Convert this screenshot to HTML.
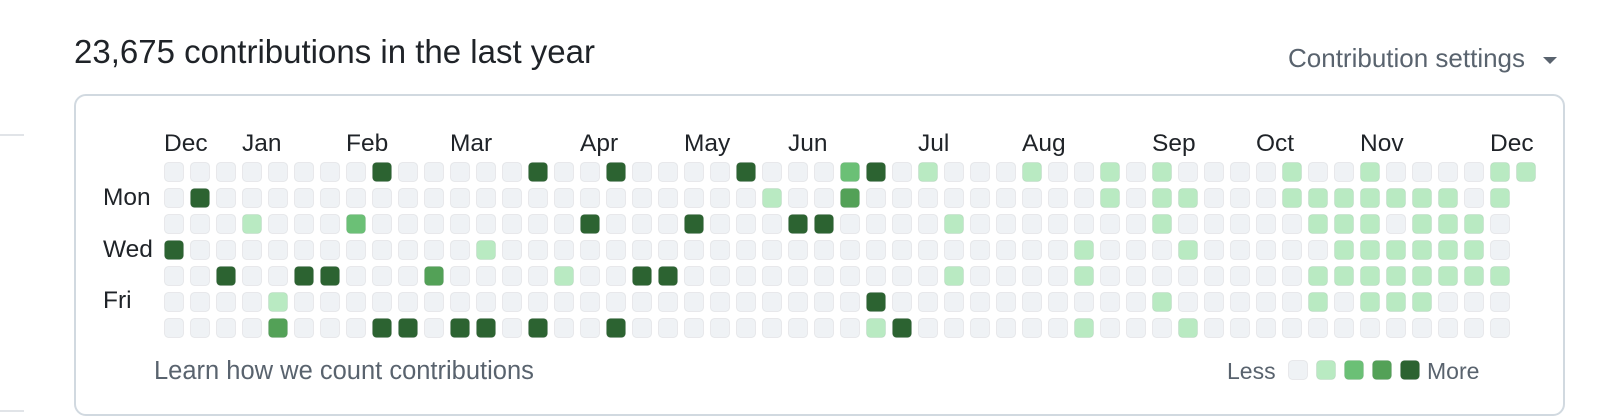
<!DOCTYPE html>
<html><head><meta charset="utf-8">
<style>
html,body{margin:0;padding:0;background:#fff;width:1610px;height:414px;overflow:hidden;font-family:"Liberation Sans",sans-serif;}
.t{position:absolute;white-space:nowrap;}
</style></head><body>
<div style="position:absolute;left:0;top:134px;width:24px;height:2px;background:#e1e4e8"></div>
<div style="position:absolute;left:0;top:410px;width:24px;height:2px;background:#e1e4e8"></div>
<div class="t" style="left:74px;top:32px;font-size:33px;color:#1f2328;line-height:40px">23,675 contributions in the last year</div>
<div class="t" style="left:1288px;top:42px;font-size:26px;color:#59636e;line-height:32px">Contribution settings</div>
<svg style="position:absolute;left:1543px;top:56px" width="16" height="10"><polygon points="0,1 14,1 7,8" fill="#59636e"/></svg>
<div style="position:absolute;left:74px;top:94px;width:1487px;height:318px;border:2px solid #d1d9e0;border-radius:12px"></div>
<svg id="g" style="position:absolute;left:0;top:0" width="1610" height="414"></svg>
<div class="t" style="left:154px;top:355px;font-size:25.5px;color:#59636e;line-height:32px">Learn how we count contributions</div>
<div class="t" style="left:1227px;top:356px;font-size:23px;color:#59636e;line-height:30px">Less</div>
<div class="t" style="left:1427px;top:356px;font-size:23px;color:#59636e;line-height:30px">More</div>
<script>
var C=['#eff2f5','#b9eac2','#6bc076','#53a157','#2c6331'];
var d={};function s(r,cols,l){cols.forEach(function(c){d[r+','+c]=l;});}
s(0,[8,14,17,22,27],4);s(0,[26],2);s(0,[29,33,36,38,43,46,51,52],1);
s(1,[1],4);s(1,[26],3);s(1,[23,36,38,39,43,44,45,46,47,48,49,51],1);
s(2,[16,20,24,25],4);s(2,[7],2);s(2,[3,30,38,44,45,46,48,49,50],1);
s(3,[0],4);s(3,[12,35,39,45,46,47,48,49,50],1);
s(4,[2,5,6,18,19],4);s(4,[10],3);s(4,[15,30,35,44,45,46,47,48,49,50,51],1);
s(5,[27],4);s(5,[4,38,44,46,47,48],1);
s(6,[8,9,11,12,14,17,28],4);s(6,[4],3);s(6,[27,35,39],1);
var h='';
for(var c=0;c<53;c++)for(var r=0;r<7;r++){if(c==52&&r>0)continue;var l=d[r+','+c]||0;
h+='<rect x="'+(164.5+c*26)+'" y="'+(162.5+r*26)+'" width="19" height="19" rx="4" fill="'+C[l]+'" stroke="rgba(31,35,40,0.07)"/>';}
var m=[['Dec',0],['Jan',3],['Feb',7],['Mar',11],['Apr',16],['May',20],['Jun',24],['Jul',29],['Aug',33],['Sep',38],['Oct',42],['Nov',46],['Dec',51]];
m.forEach(function(x){h+='<text x="'+(164+x[1]*26)+'" y="151" font-size="24.5" fill="#1f2328" font-family="Liberation Sans, sans-serif">'+x[0]+'</text>';});
[['Mon',205],['Wed',257],['Fri',308]].forEach(function(x){h+='<text x="103" y="'+x[1]+'" font-size="24.5" fill="#1f2328" font-family="Liberation Sans, sans-serif">'+x[0]+'</text>';});
for(var i=0;i<5;i++)h+='<rect x="'+(1288.5+i*28)+'" y="360.5" width="19" height="19" rx="4" fill="'+C[i]+'" stroke="rgba(31,35,40,0.07)"/>';
document.getElementById('g').innerHTML=h;
</script>
</body></html>
